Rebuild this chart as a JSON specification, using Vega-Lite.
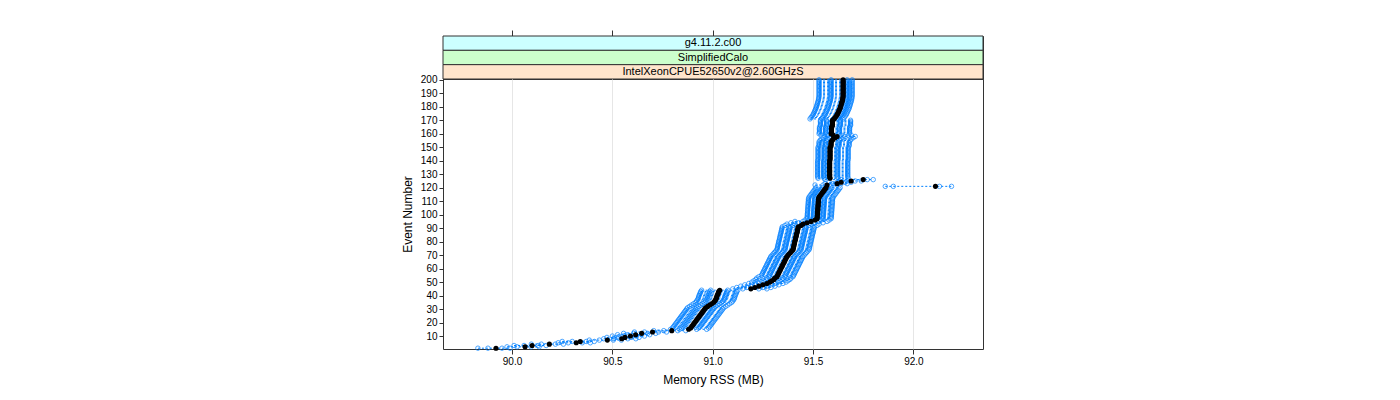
{
 "$schema": "https://vega.github.io/schema/vega-lite/v6.json",
 "padding": {"left": 400, "top": 29, "right": 5, "bottom": 5},
 "spacing": 0,
 "bounds": "flush",
 "config": {"font": "Liberation Sans", "view": {"stroke": "#333", "strokeWidth": 1}, "axis": {"labelColor": "#000", "titleColor": "#000", "tickColor": "#333", "labelFont": "Liberation Sans", "titleFont": "Liberation Sans", "titleFontWeight": "normal", "labelOverlap": false}, "axisY": {"labelOverlap": false}, "axisQuantitative": {"labelOverlap": false}},
 "datasets": {
  "strips": [
   {"lab": "g4.11.2.c00"},
   {"lab": "SimplifiedCalo"},
   {"lab": "IntelXeonCPUE52650v2@2.60GHzS"}
  ],
  "ticks": [{"v": 90}, {"v": 90.5}, {"v": 91}, {"v": 91.5}, {"v": 92}],
  "ev": [
   {"e":1,"m":89.92,"lo":89.83,"q1":89.88,"q3":89.95,"hi":89.99},
   {"e":2,"m":90.065,"lo":89.975,"q1":90.025,"q3":90.095,"hi":90.135},
   {"e":3,"m":90.10,"lo":90.01,"q1":90.06,"q3":90.13,"hi":90.17},
   {"e":4,"m":90.186,"lo":90.096,"q1":90.146,"q3":90.216,"hi":90.256},
   {"e":5,"m":90.32,"lo":90.23,"q1":90.28,"q3":90.35,"hi":90.39},
   {"e":6,"m":90.34,"lo":90.25,"q1":90.30,"q3":90.37,"hi":90.41},
   {"e":7,"m":90.475,"lo":90.385,"q1":90.435,"q3":90.505,"hi":90.545},
   {"e":8,"m":90.547,"lo":90.457,"q1":90.507,"q3":90.577,"hi":90.617},
   {"e":9,"m":90.563,"lo":90.473,"q1":90.523,"q3":90.593,"hi":90.633},
   {"e":10,"m":90.59,"lo":90.50,"q1":90.55,"q3":90.62,"hi":90.66},
   {"e":11,"m":90.616,"lo":90.526,"q1":90.576,"q3":90.646,"hi":90.686},
   {"e":12,"m":90.646,"lo":90.556,"q1":90.606,"q3":90.676,"hi":90.716},
   {"e":13,"m":90.70,"lo":90.61,"q1":90.66,"q3":90.73,"hi":90.77},
   {"e":14,"m":90.796,"lo":90.706,"q1":90.756,"q3":90.826,"hi":90.866},
   {"e":15,"m":90.88,"lo":90.79,"q1":90.835,"q3":90.92,"hi":90.97},
   {"e":16,"m":90.89,"lo":90.80,"q1":90.845,"q3":90.93,"hi":90.98},
   {"e":17,"m":90.895,"lo":90.805,"q1":90.85,"q3":90.935,"hi":90.985},
   {"e":18,"m":90.90,"lo":90.81,"q1":90.855,"q3":90.94,"hi":90.99},
   {"e":19,"m":90.905,"lo":90.815,"q1":90.86,"q3":90.945,"hi":90.995},
   {"e":20,"m":90.91,"lo":90.82,"q1":90.865,"q3":90.95,"hi":91.00},
   {"e":21,"m":90.915,"lo":90.825,"q1":90.87,"q3":90.955,"hi":91.005},
   {"e":22,"m":90.92,"lo":90.83,"q1":90.875,"q3":90.96,"hi":91.01},
   {"e":23,"m":90.925,"lo":90.835,"q1":90.88,"q3":90.965,"hi":91.015},
   {"e":24,"m":90.93,"lo":90.84,"q1":90.885,"q3":90.97,"hi":91.02},
   {"e":25,"m":90.935,"lo":90.845,"q1":90.89,"q3":90.975,"hi":91.025},
   {"e":26,"m":90.94,"lo":90.85,"q1":90.895,"q3":90.98,"hi":91.03},
   {"e":27,"m":90.945,"lo":90.855,"q1":90.90,"q3":90.985,"hi":91.035},
   {"e":28,"m":90.95,"lo":90.86,"q1":90.905,"q3":90.99,"hi":91.04},
   {"e":29,"m":90.955,"lo":90.865,"q1":90.91,"q3":90.995,"hi":91.045},
   {"e":30,"m":90.96,"lo":90.87,"q1":90.915,"q3":91.00,"hi":91.05},
   {"e":31,"m":90.965,"lo":90.875,"q1":90.92,"q3":91.005,"hi":91.055},
   {"e":32,"m":90.975,"lo":90.885,"q1":90.93,"q3":91.015,"hi":91.065},
   {"e":33,"m":90.985,"lo":90.895,"q1":90.94,"q3":91.025,"hi":91.075},
   {"e":34,"m":90.995,"lo":90.905,"q1":90.95,"q3":91.035,"hi":91.085},
   {"e":35,"m":91.005,"lo":90.915,"q1":90.96,"q3":91.045,"hi":91.095},
   {"e":36,"m":91.01,"lo":90.92,"q1":90.965,"q3":91.05,"hi":91.10},
   {"e":37,"m":91.015,"lo":90.925,"q1":90.97,"q3":91.055,"hi":91.105},
   {"e":38,"m":91.018,"lo":90.928,"q1":90.973,"q3":91.058,"hi":91.108},
   {"e":39,"m":91.02,"lo":90.93,"q1":90.975,"q3":91.06,"hi":91.11},
   {"e":40,"m":91.022,"lo":90.932,"q1":90.977,"q3":91.062,"hi":91.112},
   {"e":41,"m":91.025,"lo":90.935,"q1":90.98,"q3":91.065,"hi":91.115},
   {"e":42,"m":91.028,"lo":90.938,"q1":90.983,"q3":91.068,"hi":91.118},
   {"e":43,"m":91.03,"lo":90.94,"q1":90.985,"q3":91.07,"hi":91.12},
   {"e":44,"m":91.035,"lo":90.945,"q1":90.99,"q3":91.075,"hi":91.125},
   {"e":45,"m":91.19,"lo":91.10,"q1":91.15,"q3":91.23,"hi":91.27},
   {"e":46,"m":91.21,"lo":91.12,"q1":91.17,"q3":91.25,"hi":91.29},
   {"e":47,"m":91.23,"lo":91.14,"q1":91.19,"q3":91.27,"hi":91.31},
   {"e":48,"m":91.25,"lo":91.16,"q1":91.21,"q3":91.29,"hi":91.33},
   {"e":49,"m":91.27,"lo":91.18,"q1":91.23,"q3":91.31,"hi":91.35},
   {"e":50,"m":91.285,"lo":91.195,"q1":91.245,"q3":91.325,"hi":91.365},
   {"e":51,"m":91.295,"lo":91.205,"q1":91.255,"q3":91.335,"hi":91.375},
   {"e":52,"m":91.305,"lo":91.215,"q1":91.265,"q3":91.345,"hi":91.385},
   {"e":53,"m":91.31,"lo":91.22,"q1":91.27,"q3":91.35,"hi":91.39},
   {"e":54,"m":91.32,"lo":91.23,"q1":91.28,"q3":91.36,"hi":91.40},
   {"e":55,"m":91.323,"lo":91.243,"q1":91.283,"q3":91.363,"hi":91.403},
   {"e":56,"m":91.327,"lo":91.247,"q1":91.287,"q3":91.367,"hi":91.407},
   {"e":57,"m":91.33,"lo":91.25,"q1":91.29,"q3":91.37,"hi":91.41},
   {"e":58,"m":91.333,"lo":91.253,"q1":91.293,"q3":91.373,"hi":91.413},
   {"e":59,"m":91.337,"lo":91.257,"q1":91.297,"q3":91.377,"hi":91.417},
   {"e":60,"m":91.34,"lo":91.26,"q1":91.30,"q3":91.38,"hi":91.42},
   {"e":61,"m":91.343,"lo":91.263,"q1":91.303,"q3":91.383,"hi":91.423},
   {"e":62,"m":91.347,"lo":91.267,"q1":91.307,"q3":91.387,"hi":91.427},
   {"e":63,"m":91.35,"lo":91.27,"q1":91.31,"q3":91.39,"hi":91.43},
   {"e":64,"m":91.353,"lo":91.273,"q1":91.313,"q3":91.393,"hi":91.433},
   {"e":65,"m":91.357,"lo":91.277,"q1":91.317,"q3":91.397,"hi":91.437},
   {"e":66,"m":91.36,"lo":91.28,"q1":91.32,"q3":91.40,"hi":91.44},
   {"e":67,"m":91.363,"lo":91.283,"q1":91.323,"q3":91.403,"hi":91.443},
   {"e":68,"m":91.367,"lo":91.287,"q1":91.327,"q3":91.407,"hi":91.447},
   {"e":69,"m":91.37,"lo":91.29,"q1":91.33,"q3":91.41,"hi":91.45},
   {"e":70,"m":91.376,"lo":91.296,"q1":91.336,"q3":91.416,"hi":91.456},
   {"e":71,"m":91.382,"lo":91.302,"q1":91.342,"q3":91.422,"hi":91.462},
   {"e":72,"m":91.388,"lo":91.308,"q1":91.348,"q3":91.428,"hi":91.468},
   {"e":73,"m":91.394,"lo":91.314,"q1":91.354,"q3":91.434,"hi":91.474},
   {"e":74,"m":91.40,"lo":91.32,"q1":91.36,"q3":91.44,"hi":91.48},
   {"e":75,"m":91.402,"lo":91.322,"q1":91.362,"q3":91.442,"hi":91.482},
   {"e":76,"m":91.403,"lo":91.323,"q1":91.363,"q3":91.443,"hi":91.483},
   {"e":77,"m":91.405,"lo":91.325,"q1":91.365,"q3":91.445,"hi":91.485},
   {"e":78,"m":91.406,"lo":91.326,"q1":91.366,"q3":91.446,"hi":91.486},
   {"e":79,"m":91.408,"lo":91.328,"q1":91.368,"q3":91.448,"hi":91.488},
   {"e":80,"m":91.409,"lo":91.329,"q1":91.369,"q3":91.449,"hi":91.489},
   {"e":81,"m":91.411,"lo":91.331,"q1":91.371,"q3":91.451,"hi":91.491},
   {"e":82,"m":91.413,"lo":91.333,"q1":91.373,"q3":91.453,"hi":91.493},
   {"e":83,"m":91.414,"lo":91.334,"q1":91.374,"q3":91.454,"hi":91.494},
   {"e":84,"m":91.416,"lo":91.336,"q1":91.376,"q3":91.456,"hi":91.496},
   {"e":85,"m":91.417,"lo":91.337,"q1":91.377,"q3":91.457,"hi":91.497},
   {"e":86,"m":91.419,"lo":91.339,"q1":91.379,"q3":91.459,"hi":91.499},
   {"e":87,"m":91.421,"lo":91.341,"q1":91.381,"q3":91.461,"hi":91.501},
   {"e":88,"m":91.422,"lo":91.342,"q1":91.382,"q3":91.462,"hi":91.502},
   {"e":89,"m":91.424,"lo":91.344,"q1":91.384,"q3":91.464,"hi":91.504},
   {"e":90,"m":91.425,"lo":91.345,"q1":91.385,"q3":91.465,"hi":91.505},
   {"e":91,"m":91.427,"lo":91.347,"q1":91.387,"q3":91.467,"hi":91.507},
   {"e":92,"m":91.44,"lo":91.36,"q1":91.40,"q3":91.48,"hi":91.52},
   {"e":93,"m":91.45,"lo":91.37,"q1":91.41,"q3":91.49,"hi":91.53},
   {"e":94,"m":91.47,"lo":91.39,"q1":91.43,"q3":91.51,"hi":91.55},
   {"e":95,"m":91.49,"lo":91.41,"q1":91.45,"q3":91.53,"hi":91.57},
   {"e":96,"m":91.51,"lo":91.46,"q1":91.49,"q3":91.54,"hi":91.58},
   {"e":97,"m":91.52,"lo":91.47,"q1":91.50,"q3":91.55,"hi":91.59},
   {"e":98,"m":91.521,"lo":91.471,"q1":91.501,"q3":91.551,"hi":91.591},
   {"e":99,"m":91.521,"lo":91.471,"q1":91.501,"q3":91.551,"hi":91.591},
   {"e":100,"m":91.522,"lo":91.472,"q1":91.502,"q3":91.552,"hi":91.592},
   {"e":101,"m":91.522,"lo":91.472,"q1":91.502,"q3":91.552,"hi":91.592},
   {"e":102,"m":91.523,"lo":91.473,"q1":91.503,"q3":91.553,"hi":91.593},
   {"e":103,"m":91.523,"lo":91.473,"q1":91.503,"q3":91.553,"hi":91.593},
   {"e":104,"m":91.524,"lo":91.474,"q1":91.504,"q3":91.554,"hi":91.594},
   {"e":105,"m":91.524,"lo":91.474,"q1":91.504,"q3":91.554,"hi":91.594},
   {"e":106,"m":91.525,"lo":91.475,"q1":91.505,"q3":91.555,"hi":91.595},
   {"e":107,"m":91.525,"lo":91.475,"q1":91.505,"q3":91.555,"hi":91.595},
   {"e":108,"m":91.526,"lo":91.476,"q1":91.506,"q3":91.556,"hi":91.596},
   {"e":109,"m":91.526,"lo":91.476,"q1":91.506,"q3":91.556,"hi":91.596},
   {"e":110,"m":91.527,"lo":91.477,"q1":91.507,"q3":91.557,"hi":91.597},
   {"e":111,"m":91.527,"lo":91.477,"q1":91.507,"q3":91.557,"hi":91.597},
   {"e":112,"m":91.528,"lo":91.478,"q1":91.508,"q3":91.558,"hi":91.598},
   {"e":113,"m":91.53,"lo":91.48,"q1":91.51,"q3":91.56,"hi":91.60},
   {"e":114,"m":91.535,"lo":91.485,"q1":91.515,"q3":91.565,"hi":91.605},
   {"e":115,"m":91.54,"lo":91.49,"q1":91.52,"q3":91.57,"hi":91.61},
   {"e":116,"m":91.545,"lo":91.495,"q1":91.525,"q3":91.575,"hi":91.615},
   {"e":117,"m":91.55,"lo":91.50,"q1":91.53,"q3":91.58,"hi":91.62},
   {"e":118,"m":91.555,"lo":91.505,"q1":91.535,"q3":91.585,"hi":91.625},
   {"e":119,"m":91.56,"lo":91.51,"q1":91.54,"q3":91.59,"hi":91.63},
   {"e":120,"m":91.565,"lo":91.515,"q1":91.545,"q3":91.595,"hi":91.635},
   {"e":121,"m":92.11,"lo":91.86,"q1":91.90,"q3":92.13,"hi":92.19},
   {"e":122,"m":91.57,"lo":91.51,"q1":91.55,"q3":91.59,"hi":91.62},
   {"e":123,"m":91.62,"lo":91.56,"q1":91.60,"q3":91.64,"hi":91.67},
   {"e":124,"m":91.64,"lo":91.58,"q1":91.62,"q3":91.66,"hi":91.69},
   {"e":125,"m":91.69,"lo":91.63,"q1":91.67,"q3":91.71,"hi":91.74},
   {"e":126,"m":91.75,"lo":91.56,"q1":91.64,"q3":91.77,"hi":91.80},
   {"e":127,"m":91.585,"lo":91.525,"q1":91.555,"q3":91.625,"hi":91.675},
   {"e":128,"m":91.583,"lo":91.523,"q1":91.553,"q3":91.623,"hi":91.673},
   {"e":129,"m":91.583,"lo":91.523,"q1":91.553,"q3":91.623,"hi":91.673},
   {"e":130,"m":91.583,"lo":91.523,"q1":91.553,"q3":91.623,"hi":91.673},
   {"e":131,"m":91.583,"lo":91.523,"q1":91.553,"q3":91.623,"hi":91.673},
   {"e":132,"m":91.583,"lo":91.523,"q1":91.553,"q3":91.623,"hi":91.673},
   {"e":133,"m":91.583,"lo":91.523,"q1":91.553,"q3":91.623,"hi":91.673},
   {"e":134,"m":91.583,"lo":91.523,"q1":91.553,"q3":91.623,"hi":91.673},
   {"e":135,"m":91.583,"lo":91.523,"q1":91.553,"q3":91.623,"hi":91.673},
   {"e":136,"m":91.583,"lo":91.523,"q1":91.553,"q3":91.623,"hi":91.673},
   {"e":137,"m":91.583,"lo":91.523,"q1":91.553,"q3":91.623,"hi":91.673},
   {"e":138,"m":91.583,"lo":91.523,"q1":91.553,"q3":91.623,"hi":91.673},
   {"e":139,"m":91.583,"lo":91.523,"q1":91.553,"q3":91.623,"hi":91.673},
   {"e":140,"m":91.583,"lo":91.523,"q1":91.553,"q3":91.623,"hi":91.673},
   {"e":141,"m":91.585,"lo":91.525,"q1":91.555,"q3":91.625,"hi":91.675},
   {"e":142,"m":91.585,"lo":91.525,"q1":91.555,"q3":91.625,"hi":91.675},
   {"e":143,"m":91.585,"lo":91.525,"q1":91.555,"q3":91.625,"hi":91.675},
   {"e":144,"m":91.585,"lo":91.525,"q1":91.555,"q3":91.625,"hi":91.675},
   {"e":145,"m":91.585,"lo":91.525,"q1":91.555,"q3":91.625,"hi":91.675},
   {"e":146,"m":91.585,"lo":91.525,"q1":91.555,"q3":91.625,"hi":91.675},
   {"e":147,"m":91.585,"lo":91.525,"q1":91.555,"q3":91.625,"hi":91.675},
   {"e":148,"m":91.585,"lo":91.525,"q1":91.555,"q3":91.625,"hi":91.675},
   {"e":149,"m":91.585,"lo":91.525,"q1":91.555,"q3":91.625,"hi":91.675},
   {"e":150,"m":91.585,"lo":91.525,"q1":91.555,"q3":91.625,"hi":91.675},
   {"e":151,"m":91.59,"lo":91.53,"q1":91.56,"q3":91.63,"hi":91.68},
   {"e":152,"m":91.59,"lo":91.53,"q1":91.56,"q3":91.63,"hi":91.68},
   {"e":153,"m":91.59,"lo":91.53,"q1":91.56,"q3":91.63,"hi":91.68},
   {"e":154,"m":91.59,"lo":91.53,"q1":91.56,"q3":91.63,"hi":91.68},
   {"e":155,"m":91.595,"lo":91.535,"q1":91.565,"q3":91.635,"hi":91.685},
   {"e":156,"m":91.60,"lo":91.54,"q1":91.57,"q3":91.64,"hi":91.69},
   {"e":157,"m":91.61,"lo":91.55,"q1":91.58,"q3":91.65,"hi":91.70},
   {"e":158,"m":91.62,"lo":91.56,"q1":91.59,"q3":91.66,"hi":91.71},
   {"e":159,"m":91.60,"lo":91.54,"q1":91.57,"q3":91.64,"hi":91.69},
   {"e":160,"m":91.59,"lo":91.53,"q1":91.56,"q3":91.63,"hi":91.68},
   {"e":161,"m":91.592,"lo":91.532,"q1":91.562,"q3":91.632,"hi":91.682},
   {"e":162,"m":91.592,"lo":91.532,"q1":91.562,"q3":91.632,"hi":91.682},
   {"e":163,"m":91.592,"lo":91.532,"q1":91.562,"q3":91.632,"hi":91.682},
   {"e":164,"m":91.592,"lo":91.532,"q1":91.562,"q3":91.632,"hi":91.682},
   {"e":165,"m":91.592,"lo":91.532,"q1":91.562,"q3":91.632,"hi":91.682},
   {"e":166,"m":91.597,"lo":91.537,"q1":91.567,"q3":91.637,"hi":91.687},
   {"e":167,"m":91.597,"lo":91.537,"q1":91.567,"q3":91.637,"hi":91.687},
   {"e":168,"m":91.597,"lo":91.537,"q1":91.567,"q3":91.637,"hi":91.687},
   {"e":169,"m":91.597,"lo":91.537,"q1":91.567,"q3":91.637,"hi":91.687},
   {"e":170,"m":91.597,"lo":91.537,"q1":91.567,"q3":91.637,"hi":91.687},
   {"e":171,"m":91.605,"lo":91.485,"q1":91.545,"q3":91.625,"hi":91.65},
   {"e":172,"m":91.61,"lo":91.49,"q1":91.55,"q3":91.63,"hi":91.655},
   {"e":173,"m":91.615,"lo":91.495,"q1":91.555,"q3":91.635,"hi":91.66},
   {"e":174,"m":91.62,"lo":91.50,"q1":91.56,"q3":91.64,"hi":91.665},
   {"e":175,"m":91.623,"lo":91.503,"q1":91.563,"q3":91.643,"hi":91.668},
   {"e":176,"m":91.626,"lo":91.506,"q1":91.566,"q3":91.646,"hi":91.671},
   {"e":177,"m":91.629,"lo":91.509,"q1":91.569,"q3":91.649,"hi":91.674},
   {"e":178,"m":91.632,"lo":91.512,"q1":91.572,"q3":91.652,"hi":91.677},
   {"e":179,"m":91.635,"lo":91.515,"q1":91.575,"q3":91.655,"hi":91.68},
   {"e":180,"m":91.637,"lo":91.517,"q1":91.577,"q3":91.657,"hi":91.682},
   {"e":181,"m":91.639,"lo":91.519,"q1":91.579,"q3":91.659,"hi":91.684},
   {"e":182,"m":91.641,"lo":91.521,"q1":91.581,"q3":91.661,"hi":91.686},
   {"e":183,"m":91.643,"lo":91.523,"q1":91.583,"q3":91.663,"hi":91.688},
   {"e":184,"m":91.645,"lo":91.525,"q1":91.585,"q3":91.665,"hi":91.69},
   {"e":185,"m":91.647,"lo":91.527,"q1":91.587,"q3":91.667,"hi":91.692},
   {"e":186,"m":91.648,"lo":91.528,"q1":91.588,"q3":91.668,"hi":91.693},
   {"e":187,"m":91.649,"lo":91.529,"q1":91.589,"q3":91.669,"hi":91.694},
   {"e":188,"m":91.65,"lo":91.53,"q1":91.59,"q3":91.67,"hi":91.695},
   {"e":189,"m":91.65,"lo":91.53,"q1":91.59,"q3":91.67,"hi":91.695},
   {"e":190,"m":91.65,"lo":91.53,"q1":91.59,"q3":91.67,"hi":91.695},
   {"e":191,"m":91.65,"lo":91.53,"q1":91.59,"q3":91.67,"hi":91.695},
   {"e":192,"m":91.65,"lo":91.53,"q1":91.59,"q3":91.67,"hi":91.695},
   {"e":193,"m":91.65,"lo":91.53,"q1":91.59,"q3":91.67,"hi":91.695},
   {"e":194,"m":91.65,"lo":91.53,"q1":91.59,"q3":91.67,"hi":91.695},
   {"e":195,"m":91.65,"lo":91.53,"q1":91.59,"q3":91.67,"hi":91.695},
   {"e":196,"m":91.65,"lo":91.53,"q1":91.59,"q3":91.67,"hi":91.695},
   {"e":197,"m":91.65,"lo":91.53,"q1":91.59,"q3":91.67,"hi":91.695},
   {"e":198,"m":91.65,"lo":91.53,"q1":91.59,"q3":91.67,"hi":91.695},
   {"e":199,"m":91.65,"lo":91.53,"q1":91.59,"q3":91.67,"hi":91.695},
   {"e":200,"m":91.65,"lo":91.53,"q1":91.59,"q3":91.67,"hi":91.695}
  ]
 },
 "vconcat": [
  {
   "width": 540, "height": 43,
   "layer": [
    {
     "data": {"name": "strips"},
     "mark": {"type": "rect", "stroke": "#333", "strokeWidth": 1},
     "encoding": {
      "y": {"field": "lab", "type": "nominal", "sort": ["g4.11.2.c00", "SimplifiedCalo", "IntelXeonCPUE52650v2@2.60GHzS"], "axis": null, "scale": {"paddingInner": 0, "paddingOuter": 0}},
      "color": {"field": "lab", "type": "nominal", "scale": {"domain": ["g4.11.2.c00", "SimplifiedCalo", "IntelXeonCPUE52650v2@2.60GHzS"], "range": ["#ccffff", "#ccffcc", "#ffe5cc"]}, "legend": null}
     }
    },
    {
     "data": {"name": "strips"},
     "mark": {"type": "text", "fontSize": 11, "color": "#000", "font": "Liberation Sans"},
     "encoding": {
      "y": {"field": "lab", "type": "nominal", "sort": ["g4.11.2.c00", "SimplifiedCalo", "IntelXeonCPUE52650v2@2.60GHzS"], "axis": null},
      "text": {"field": "lab"}
     }
    },
    {
     "data": {"name": "ticks"},
     "mark": {"type": "point", "opacity": 0},
     "encoding": {
      "x": {"field": "v", "type": "quantitative", "scale": {"domain": [89.656, 92.347], "nice": false, "zero": false}, "axis": {"orient": "top", "values": [90, 90.5, 91, 91.5, 92], "labels": false, "domain": false, "grid": false, "tickSize": 6, "title": null}}
     }
    }
   ]
  },
  {
   "width": 540, "height": 270,
   "data": {"name": "ev"},
   "encoding": {
    "y": {"field": "e", "type": "quantitative", "title": "Event Number", "scale": {"domain": [0.4, 200.6], "nice": false, "zero": false}, "axis": {"values": [10,20,30,40,50,60,70,80,90,100,110,120,130,140,150,160,170,180,190,200], "grid": false, "domain": false, "tickSize": 4, "labelFontSize": 10, "titleFontSize": 12, "labelPadding": 2, "titlePadding": 6, "labelOverlap": false, "labelFlush": false, "labelBound": false}}
   },
   "layer": [
    {
     "mark": {"type": "rule", "color": "#0080ff", "strokeWidth": 1, "strokeDash": [2, 2]},
     "encoding": {
      "x": {"field": "lo", "type": "quantitative", "title": "Memory RSS (MB)", "scale": {"domain": [89.656, 92.347], "nice": false, "zero": false}, "axis": {"values": [90, 90.5, 91, 91.5, 92], "format": ".1f", "grid": true, "gridColor": "#e6e6e6", "domain": false, "tickSize": 5, "labelFontSize": 10, "titleFontSize": 12, "titlePadding": 8, "labelOverlap": false}},
      "x2": {"field": "hi"}
     }
    },
    {
     "mark": {"type": "point", "shape": "circle", "filled": false, "color": "#0080ff", "size": 20, "strokeWidth": 1},
     "encoding": {"x": {"field": "lo", "type": "quantitative", "title": "Memory RSS (MB)"}}
    },
    {
     "mark": {"type": "point", "shape": "circle", "filled": false, "color": "#0080ff", "size": 20, "strokeWidth": 1},
     "encoding": {"x": {"field": "q1", "type": "quantitative", "title": "Memory RSS (MB)"}}
    },
    {
     "mark": {"type": "point", "shape": "circle", "filled": false, "color": "#0080ff", "size": 20, "strokeWidth": 1},
     "encoding": {"x": {"field": "q3", "type": "quantitative", "title": "Memory RSS (MB)"}}
    },
    {
     "mark": {"type": "point", "shape": "circle", "filled": false, "color": "#0080ff", "size": 20, "strokeWidth": 1},
     "encoding": {"x": {"field": "hi", "type": "quantitative", "title": "Memory RSS (MB)"}}
    },
    {
     "mark": {"type": "point", "shape": "circle", "filled": true, "color": "#000000", "size": 26, "opacity": 1},
     "encoding": {"x": {"field": "m", "type": "quantitative", "title": "Memory RSS (MB)"}}
    }
   ]
  }
 ]
}
